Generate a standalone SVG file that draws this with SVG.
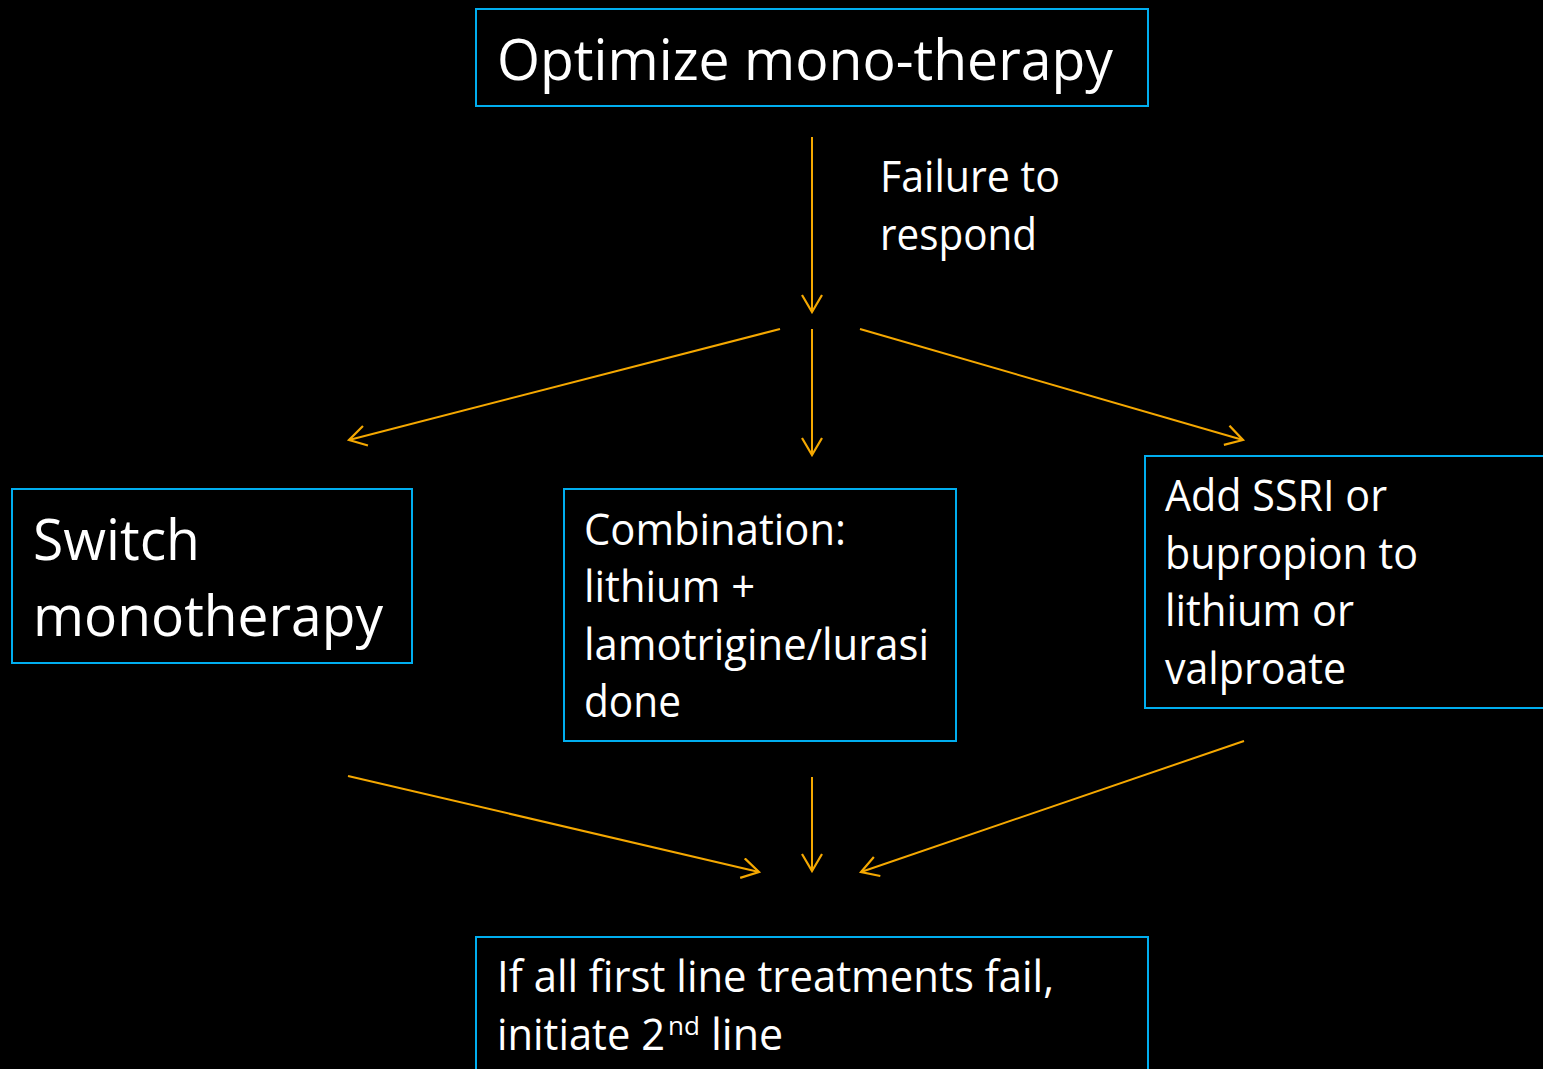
<svg xmlns="http://www.w3.org/2000/svg" width="1543" height="1069" viewBox="0 0 1543 1069">
<style>
.box{fill:#000;stroke:#00AEEF;stroke-width:2}
.t{font-family:"Open Sans","Liberation Sans",sans-serif;fill:#fff}
.big{font-size:57px}
.mid{font-size:43px}
.sup{font-size:26px}
.c{fill:none;stroke:#F5A800;stroke-width:2}
</style>
<defs>
<marker id="ah" viewBox="0 0 20 22" refX="18" refY="11" markerWidth="20" markerHeight="22" markerUnits="userSpaceOnUse" orient="auto">
<path d="M1,1 L18,11 L1,21" fill="none" stroke="#F5A800" stroke-width="2.2"/>
</marker>
</defs>
<rect width="1543" height="1069" fill="#000"/>
<g id="connectors">
<line class="c" x1="812" y1="137" x2="812" y2="312" marker-end="url(#ah)"/>
<line class="c" x1="780" y1="329" x2="349" y2="440" marker-end="url(#ah)"/>
<line class="c" x1="812" y1="329" x2="812" y2="455" marker-end="url(#ah)"/>
<line class="c" x1="860" y1="329" x2="1243" y2="440" marker-end="url(#ah)"/>
<line class="c" x1="348" y1="776" x2="759" y2="872" marker-end="url(#ah)"/>
<line class="c" x1="812" y1="777" x2="812" y2="871" marker-end="url(#ah)"/>
<line class="c" x1="1244" y1="741" x2="861" y2="872" marker-end="url(#ah)"/>
<text class="t mid" x="880" y="192" textLength="180" lengthAdjust="spacingAndGlyphs">Failure to</text>
<text class="t mid" x="880" y="250" textLength="157" lengthAdjust="spacingAndGlyphs">respond</text>
</g>
<g id="optimize">
<rect class="box" x="476" y="9" width="672" height="97"/>
<text class="t big" x="497" y="80" textLength="616" lengthAdjust="spacingAndGlyphs">Optimize mono-therapy</text>
</g>
<g id="switch">
<rect class="box" x="12" y="489" width="400" height="174"/>
<text class="t big" x="33" y="560" textLength="167" lengthAdjust="spacingAndGlyphs">Switch</text>
<text class="t big" x="33" y="636" textLength="350" lengthAdjust="spacingAndGlyphs">monotherapy</text>
</g>
<g id="combination">
<rect class="box" x="564" y="489" width="392" height="252"/>
<text class="t mid" x="584" y="545" textLength="262" lengthAdjust="spacingAndGlyphs">Combination:</text>
<text class="t mid" x="584" y="602" textLength="171" lengthAdjust="spacingAndGlyphs">lithium +</text>
<text class="t mid" x="584" y="660" textLength="345" lengthAdjust="spacingAndGlyphs">lamotrigine/lurasi</text>
<text class="t mid" x="584" y="717" textLength="97" lengthAdjust="spacingAndGlyphs">done</text>
</g>
<g id="add">
<rect class="box" x="1145" y="456" width="410" height="252"/>
<text class="t mid" x="1165" y="511" textLength="222" lengthAdjust="spacingAndGlyphs">Add SSRI or</text>
<text class="t mid" x="1165" y="569" textLength="253" lengthAdjust="spacingAndGlyphs">bupropion to</text>
<text class="t mid" x="1165" y="626" textLength="189" lengthAdjust="spacingAndGlyphs">lithium or</text>
<text class="t mid" x="1165" y="684" textLength="181" lengthAdjust="spacingAndGlyphs">valproate</text>
</g>
<g id="secondline">
<rect class="box" x="476" y="937" width="672" height="150"/>
<text class="t mid" x="497" y="992" textLength="557" lengthAdjust="spacingAndGlyphs">If all first line treatments fail,</text>
<text class="t mid" x="497" y="1050"><tspan textLength="168" lengthAdjust="spacingAndGlyphs">initiate 2</tspan><tspan class="sup" x="668" dy="-15">nd</tspan><tspan x="711" dy="15">line</tspan></text>
</g>
</svg>
